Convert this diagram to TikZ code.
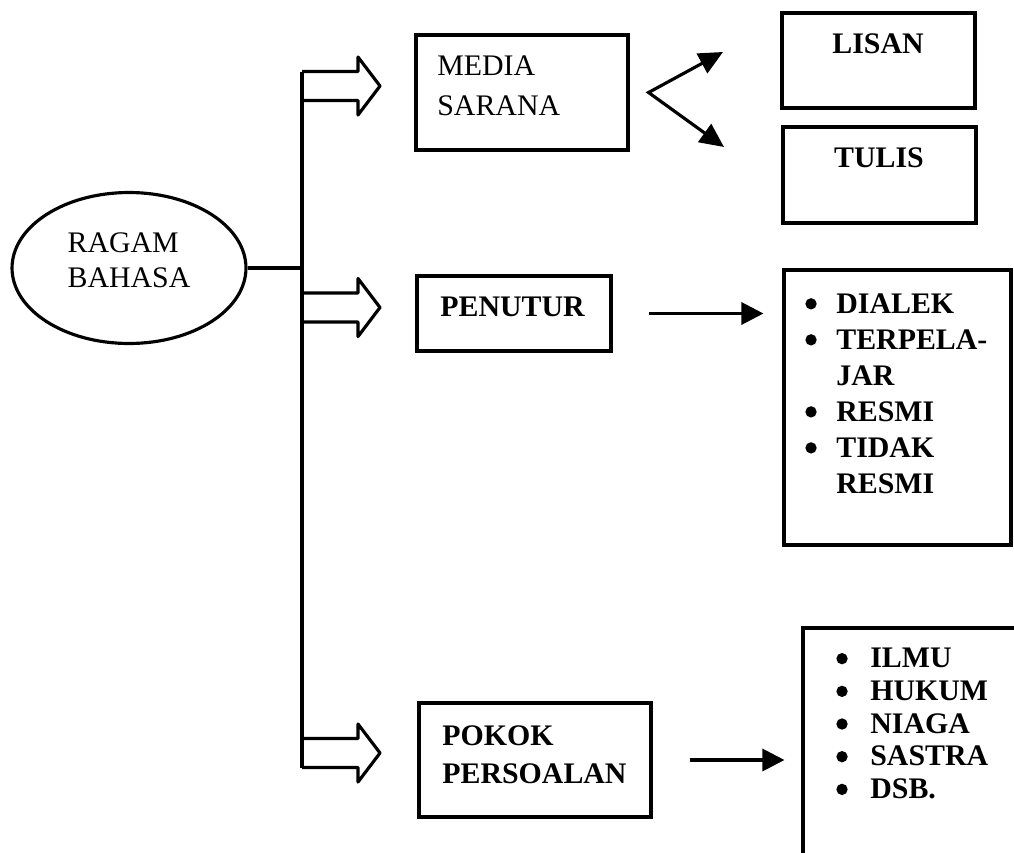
\documentclass[tikz,border=0pt]{standalone}
\usepackage{fontspec}
\setmainfont{Liberation Serif}
\usetikzlibrary{shapes.geometric}
\usetikzlibrary{arrows.meta}
\tikzset{
  garis/.style={line width=1.8pt},
  kotak/.style={draw, line width=1.8pt, rectangle, inner sep=0pt},
  teks/.style={inner sep=0pt, align=left},
  huruf/.style={font=\fontsize{17}{#1}\selectfont},
  hurufbold/.style={font=\fontsize{17}{#1}\selectfont\bfseries},
  panah/.style={line width=1.8pt, -{Triangle[length=0.44cm,width=0.44cm]}}
}
\newcommand{\panahblok}[1]{\draw[garis, line join=round] (302,#1-14.5) -- (358,#1-14.5) -- (358,#1-29) -- (380,#1) -- (358,#1+29) -- (358,#1+14.5) -- (302,#1+14.5);}
\newcommand{\titik}{\tikz[baseline=0pt]\fill (0.2em,0.31em) circle [radius=0.19em];}
\newcommand{\butir}[2][0.62cm]{\makebox[#1][l]{\titik}#2}

\begin{document}
\begin{tikzpicture}[x=0.02cm, y=-0.02cm]
            \useasboundingbox (0,0) rectangle (1014,852);
            % ragam bahasa
            \node[draw, garis, ellipse, minimum width=4.68cm, minimum height=3.02cm, inner sep=0pt,
                  align=left, text depth=0.3cm, huruf=19.9pt] (ragam) at (129,268) {RAGAM\\BAHASA};
            % batang
            \coordinate (batangatas) at (302,72);
            \coordinate (batangbawah) at (302,768);
            \draw[garis] (ragam.east) -- (ragam.east -| batangatas);
            \draw[garis] (batangatas) -- (batangbawah);
            \panahblok{86}
            \panahblok{307.5}
            \panahblok{753}
            % media sarana
            \node[kotak, minimum width=4.24cm, minimum height=2.3cm] (media) at (522,92.5) {};
            \node[teks, anchor=north west, huruf=22.8pt] (mediateks) at (437,55) {MEDIA\\SARANA};
            \node[kotak, minimum width=3.86cm, minimum height=1.9cm] (lisan) at (878.5,60.5) {};
            \node[teks, anchor=north, hurufbold=20pt] (lisanteks) at (878,33) {LISAN};
            \node[kotak, minimum width=3.86cm, minimum height=1.92cm] (tulis) at (879.5,175) {};
            \node[teks, anchor=north, hurufbold=20pt] (tulisteks) at (879,147) {TULIS};
            \coordinate (cabang) at ([xshift=0.38cm]media.east);
            \coordinate (ujunglisan) at (723,52);
            \coordinate (ujungtulis) at (724,147);
            \draw[garis, {Triangle[length=0.48cm,width=0.44cm]}-{Triangle[length=0.48cm,width=0.44cm]}]
                (ujunglisan) -- (cabang) -- (ujungtulis);
            % penutur
            \node[kotak, minimum width=3.88cm, minimum height=1.5cm] (penutur) at (514,313.5) {};
            \node[teks, anchor=north west, hurufbold=20pt] (penututeks) at (440,297) {PENUTUR};
            \node[kotak, minimum width=4.54cm, minimum height=5.5cm] (ciri) at (897.5,407.5) {};
            \node[teks, anchor=north west, hurufbold=20.5pt] (ciriteks) at (805,293)
                {\butir{DIALEK}\\\butir{TERPELA-}\\\hspace*{0.62cm}JAR\\\butir{RESMI}\\\butir{TIDAK}\\\hspace*{0.62cm}RESMI};
            \draw[panah, shorten <=0.72cm, shorten >=0.38cm] (penutur.east) -- (penutur.east -| ciri.west);
            % pokok persoalan
            \node[kotak, minimum width=4.64cm, minimum height=2.28cm] (pokok) at (535,760) {};
            \node[teks, anchor=north west, hurufbold=21.6pt] (pokokteks) at (442,725) {POKOK\\PERSOALAN};
            \node[kotak, minimum width=4.54cm, minimum height=4.94cm] (bidang) at (916.5,751.5) {};
            \node[teks, anchor=north west, hurufbold=18.6pt] (bidangteks) at (836,648)
                {\butir[0.68cm]{ILMU}\\\butir[0.68cm]{HUKUM}\\\butir[0.68cm]{NIAGA}\\\butir[0.68cm]{SASTRA}\\\butir[0.68cm]{DSB.}};
            \draw[panah, shorten <=0.74cm, shorten >=0.34cm] (pokok.east) -- (pokok.east -| bidang.west);
\end{tikzpicture}
\end{document}
